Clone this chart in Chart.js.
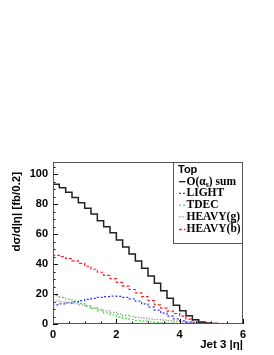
<!DOCTYPE html>
<html><head><meta charset="utf-8">
<script src="https://cdn.jsdelivr.net/npm/chart.js@4.4.1/dist/chart.umd.min.js"></script>
<style>html,body{margin:0;padding:0;background:#fff;overflow:hidden}canvas{display:block}</style>
</head><body>
<canvas id="c" width="274" height="355"></canvas>
<script>
// bin edges of |eta| (0.2 wide bins), last entry is the upper edge
const binEdges = [0,0.2,0.4,0.6,0.8,1.0,1.2,1.4,1.6,1.8,2.0,2.2,2.4,2.6,2.8,3.0,3.2,3.4,3.6,3.8,4.0,4.2,4.4,4.6,4.8,5.0,5.2,5.4,5.6,5.8,6.0];
const sumVals   = [94.3,93.1,90.8,87.8,84.4,80.9,77.1,73.3,68.9,64.9,60.9,56.0,51.3,46.7,42.0,37.1,32.0,27.1,22.2,17.1,12.5,8.8,5.5,2.9,1.4,0.7,0.4,0.2,0.1,0];
const lightVals = [12.3,12.8,13.4,14.0,14.8,15.6,16.4,17.1,17.8,18.3,18.6,18.4,17.8,16.8,15.2,13.4,11.2,9.3,7.3,5.2,3.4,2.1,1.2,0.7,0.4,0.2,0.1,0.05,0,0];
const tdecVals  = [19.8,18.9,17.8,16.6,15.2,13.7,12.1,10.4,8.8,7.3,6.0,4.8,3.8,3.0,2.4,1.9,1.5,1.1,0.8,0.6,0.4,0.3,0.2,0.1,0.1,0.05,0,0,0,0];
const heavyGVals= [15.8,15.3,14.8,14.2,13.5,12.7,11.8,10.8,9.8,8.8,7.8,6.6,5.7,5.0,4.4,3.9,3.4,3.0,2.6,2.2,1.9,1.6,1.3,1.0,0.7,0.5,0.3,0.2,0.1,0];
const heavyBVals= [46.3,45.8,44.9,43.6,42.1,40.4,38.5,36.5,34.5,32.4,30.2,27.8,25.3,23.0,20.8,18.3,15.6,12.8,10.6,8.6,7.0,5.2,3.2,2.0,1.2,0.7,0.4,0.2,0.1,0];
const seriesLabels = ['O(αs) sum','LIGHT','TDEC','HEAVY(g)','HEAVY(b)'];
const legendTitle = 'Top';
const xTicks = [0,2,4,6];
const yTicks = [0,20,40,60,80,100];
const xTitle = 'Jet 3 |η|';
const yTitle = 'dσ/d|η| [fb/0.2]';

function hist(vals){
  const pts = vals.map((v,i)=>({x:binEdges[i], y:v}));
  pts.push({x:binEdges[binEdges.length-1], y:vals[vals.length-1]});
  return pts;
}
const styles = [
  {c:'#222222', d:[] , w:1.5},
  {c:'#3333ff', d:[2,2], w:1.2},
  {c:'#44dd44', d:[2,2], w:1.2},
  {c:'#999999', d:[1.5,1.5], w:1.2},
  {c:'#ff2222', d:[3,2], w:1.2}
];
const seriesVals = [sumVals, lightVals, tdecVals, heavyGVals, heavyBVals];
const datasets = seriesVals.map((v,i)=>({
  label: seriesLabels[i], data: hist(v), borderColor: styles[i].c, borderDash: styles[i].d,
  borderWidth: styles[i].w, pointRadius:0, stepped:'after', fill:false, tension:0,
  order: i===0 ? 0 : 1
}));

const deco = {
  id:'deco',
  afterDraw(chart){
    const {ctx, chartArea:a, scales:{x,y}} = chart;
    ctx.save();
    ctx.strokeStyle='#000'; ctx.lineWidth=1; ctx.setLineDash([]);
    ctx.beginPath();
    for (let k=0;k<=12;k++){
      const v=k*0.5, px=Math.round(x.getPixelForValue(v))+0.5, L=(k%4===0)?5:2.5;
      ctx.moveTo(px,a.bottom); ctx.lineTo(px,a.bottom-L);
    }
    for (let k=0;k<=21;k++){
      const v=k*5, py=Math.round(y.getPixelForValue(v))+0.5, L=(k%4===0)?5:2.5;
      ctx.moveTo(a.left,py); ctx.lineTo(a.left+L,py);
    }
    ctx.stroke();
    ctx.strokeStyle='#555';
    ctx.strokeRect(a.left+0.5,a.top+0.5,a.width-1,a.height-1);
    // legend
    const lx=173, ly=a.top, lw=a.right-lx, lh=244-a.top;
    ctx.fillStyle='#fff'; ctx.fillRect(lx+0.5,ly+0.5,lw-1,lh-1);
    ctx.strokeRect(lx+0.5,ly+0.5,lw-1,lh-1);
    ctx.fillStyle='#000'; ctx.textBaseline='middle'; ctx.textAlign='left';
    ctx.font='bold 11px "Liberation Sans"';
    ctx.fillText(legendTitle, 178, 169.5);
    const rows=[181.7,193.4,205.1,216.8,229.5];
    const F='bold 11.5px "Liberation Serif"';
    rows.forEach((ry,i)=>{
      ctx.save(); ctx.strokeStyle=styles[i].c; ctx.lineWidth=1.3; ctx.setLineDash(styles[i].d);
      ctx.beginPath(); ctx.moveTo(179,ry); ctx.lineTo(185.5,ry); ctx.stroke(); ctx.restore();
      ctx.font=F;
      const tx=186.5, lab=seriesLabels[i];
      if (i===0){
        const p1='O(α', p3=') sum';
        ctx.fillText(p1,tx,ry);
        let w=ctx.measureText(p1).width;
        ctx.font='bold 8px "Liberation Serif"'; ctx.fillText('s',tx+w,ry+3);
        w+=ctx.measureText('s').width;
        ctx.font=F; ctx.fillText(p3,tx+w,ry);
      } else if (i===4){
        ctx.fillText(lab,tx,ry);
        const w0=ctx.measureText('HEAVY(').width, wb=ctx.measureText('b').width;
        ctx.save(); ctx.beginPath(); ctx.lineWidth=1; ctx.strokeStyle='#000';
        ctx.moveTo(tx+w0+0.5,ry-7.5); ctx.lineTo(tx+w0+wb-0.5,ry-7.5); ctx.stroke(); ctx.restore();
      } else ctx.fillText(lab,tx,ry);
    });
    // axis titles
    ctx.font='bold 11.5px "Liberation Sans"';
    ctx.textAlign='right'; ctx.textBaseline='middle';
    ctx.fillText(xTitle, a.right, 345);
    ctx.translate(17,172); ctx.rotate(-Math.PI/2);
    ctx.fillText(yTitle, 0, 0);
    ctx.restore();
  }
};

Chart.defaults.font.family='"Liberation Sans", Arial, sans-serif';
new Chart(document.getElementById('c'), {
  type:'line',
  data:{datasets},
  options:{
    responsive:false, animation:false, events:[],
    layout:{padding:{left:0,top:162,right:31,bottom:0}},
    plugins:{legend:{display:false}, tooltip:{enabled:false}},
    scales:{
      x:{type:'linear', min:0, max:6,
        afterBuildTicks:s=>{s.ticks=xTicks.map(v=>({value:v}));},
        afterFit:s=>{s.height=31;},
        grid:{display:false, drawTicks:false}, border:{display:false},
        ticks:{padding:4, color:'#000', font:{size:11, weight:'bold'}, maxRotation:0, autoSkip:false}},
      y:{type:'linear', min:0, max:108,
        afterBuildTicks:s=>{s.ticks=yTicks.map(v=>({value:v}));},
        afterFit:s=>{s.width=53;},
        grid:{display:false, drawTicks:false}, border:{display:false},
        ticks:{padding:5, color:'#000', font:{size:11, weight:'bold'}, autoSkip:false}}
    }
  },
  plugins:[deco]
});
</script>
</body></html>
